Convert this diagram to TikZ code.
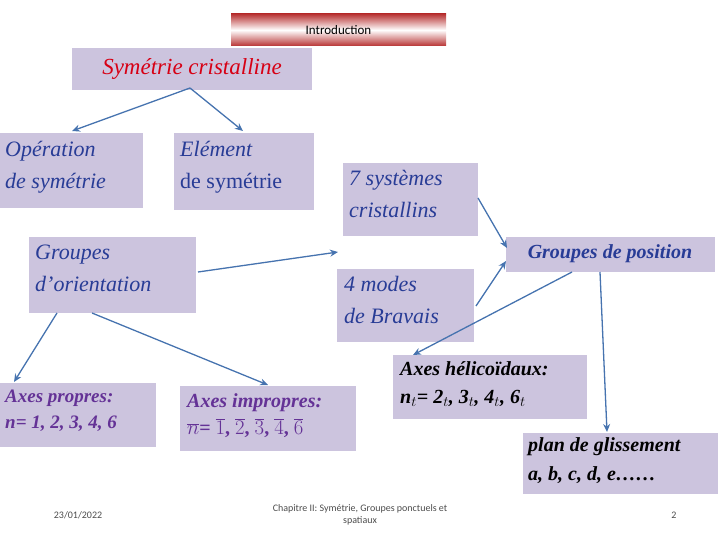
\documentclass[tikz,border=0pt]{standalone}
\usepackage{fontspec}
\setmainfont{Liberation Serif}
\newfontfamily\carfont{Carlito}
\usetikzlibrary{arrows.meta}
\definecolor{lav}{RGB}{204,196,222}
\definecolor{tblue}{RGB}{40,60,150}
\definecolor{tpurp}{RGB}{100,50,150}
\definecolor{arr}{RGB}{70,115,175}
\definecolor{tred}{RGB}{215,0,20}
\tikzset{
 tx/.style={anchor=north west,align=left,inner sep=0pt},
 con/.style={draw=arr,line width=1.3pt,-{Stealth[length=8pt,width=7pt]}},
}
\begin{document}
\begin{tikzpicture}[x=1pt,y=-1pt]
\useasboundingbox (0,0) rectangle (720,540);
\shade[top color=red!65!black!80, bottom color=red!65!black!80, middle color=white] (231,14) rectangle (446,46);
\node[font=\carfont\fontsize{13}{14}\selectfont] (intro) at (338.5,30) {Introduction};
\fill[lav] (72,48) rectangle (312,90);
\node[text=tred,font=\fontsize{23}{26}\selectfont\itshape] (sym) at (192,69) {Symétrie cristalline};
\fill[lav] (0,133) rectangle (143,208);
\node[tx,text=tblue,font=\fontsize{22}{32}\selectfont\itshape] (op) at (5,141) {Opération\\ de symétrie};
\fill[lav] (174,133) rectangle (314,210);
\node[tx,text=tblue,font=\fontsize{22}{32}\selectfont] (el) at (180,141) {\itshape Elément\\ de symétrie};
\fill[lav] (343,163) rectangle (478,236);
\node[tx,text=tblue,font=\fontsize{22}{32}\selectfont\itshape] (sept) at (349,170) {7 systèmes\\ cristallins};
\fill[lav] (29,237) rectangle (196,313);
\node[tx,text=tblue,font=\fontsize{22}{32}\selectfont\itshape] (go) at (35,245) {Groupes\\ d’orientation};
\fill[lav] (506,237) rectangle (715,272);
\node[text=tblue,font=\fontsize{20}{22}\selectfont\bfseries\itshape] (gp) at (610,254) {Groupes de position};
\fill[lav] (337,269) rectangle (474,342);
\node[tx,text=tblue,font=\fontsize{22}{32}\selectfont\itshape] (bra) at (344,276) {4 modes\\ de Bravais};
\fill[lav] (0,383) rectangle (156,447);
\node[tx,text=tpurp,font=\fontsize{19}{26}\selectfont\bfseries\itshape] (ap) at (5,390) {Axes propres:\\ n= 1, 2, 3, 4, 6};
\fill[lav] (180,386) rectangle (356,451);
\node[tx,text=tpurp,font=\fontsize{20}{27}\selectfont\bfseries] (ai) at (187,393) {\itshape Axes impropres:\\ $\overline{n}$= $\overline{1}$, $\overline{2}$, $\overline{3}$, $\overline{4}$, $\overline{6}$};
\fill[lav] (393,355) rectangle (587,419);
\node[tx,font=\fontsize{20}{28}\selectfont\bfseries\itshape] (ah) at (400,361) {Axes hélicoïdaux:\\ n$_t$= 2$_t$, 3$_t$, 4$_t$, 6$_t$};
\fill[lav] (523,433) rectangle (718,494);
\node[tx,font=\fontsize{20}{29}\selectfont\bfseries\itshape] (pg) at (528,437) {plan de glissement\\ a, b, c, d, e……};
\coordinate (s0) at (190,88);
\draw[con] (s0) -- (72,131);
\draw[con] (s0) -- (243,131);
\draw[con] (198,272) -- (338,252);
\draw[con] (478,198) -- (507,248);
\draw[con] (476,306) -- (506,261);
\draw[con] (572,272) -- (413,355);
\draw[con] (600,272) -- (607,432);
\draw[con] (57,313) -- (14,382);
\draw[con] (92,313) -- (268,385);
\node[text=black!70,font=\carfont\fontsize{10}{12}\selectfont] (date) at (78,515) {23/01/2022};
\node[align=center,text=black!70,font=\carfont\fontsize{10}{12}\selectfont] (chap) at (360,515) {Chapitre II: Symétrie, Groupes ponctuels et\\ spatiaux};
\node[text=black!70,font=\carfont\fontsize{10}{12}\selectfont] (num) at (674,515) {2};
\end{tikzpicture}
\end{document}
